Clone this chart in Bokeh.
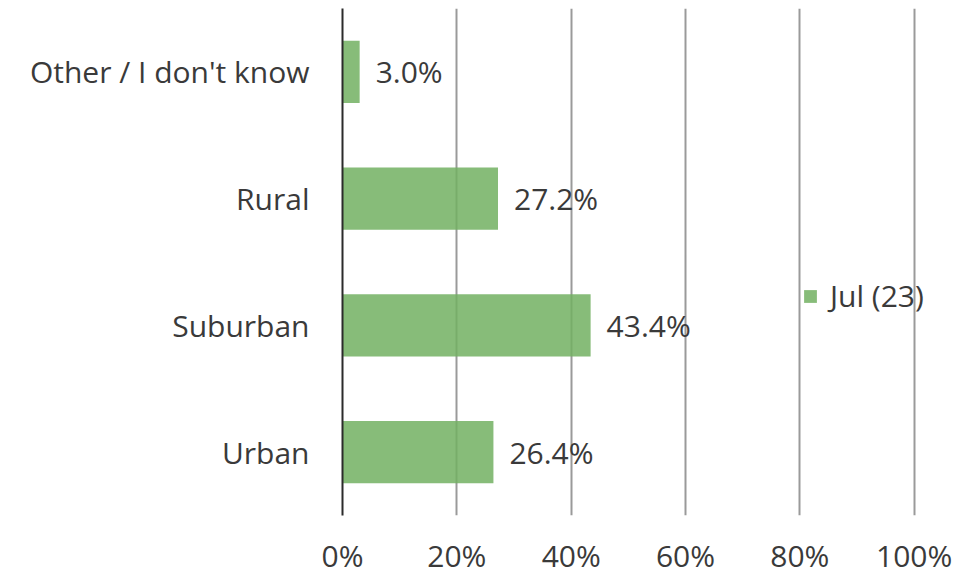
from bokeh.plotting import figure
from bokeh.models import ColumnDataSource, FactorRange, Legend, LegendItem, NumeralTickFormatter, FixedTicker
from bokeh.core.properties import value
from bokeh.embed import file_html
from bokeh.resources import INLINE

categories = ["Urban", "Suburban", "Rural", "Other / I don't know"]
values = [26.4, 43.4, 27.2, 3.0]
labels = ["26.4%", "43.4%", "27.2%", "3.0%"]
series_name = "Jul (23)"
tick_values = [0, 20, 40, 60, 80, 100]

FONT = "Open Sans"
FS = "30px"
TXT = "#3a3a3a"

src = ColumnDataSource(dict(cat=categories, val=values, lab=labels))

p = figure(width=955, height=578, y_range=FactorRange(*categories), x_range=(0, 106),
           output_backend="svg", toolbar_location=None,
           min_border_left=342, min_border_right=7, min_border_top=8, min_border_bottom=60)
p.outline_line_color = None
p.background_fill_color = "white"

bars = p.hbar(y="cat", right="val", left=0, height=0.49, source=src,
              fill_color="#72b062", fill_alpha=0.85, line_color=None)

p.text(x="val", y="cat", text="lab", source=src, x_offset=16,
       text_baseline="middle", text_align="left",
       text_font=value(FONT), text_font_size=FS, text_color=TXT)

p.ygrid.grid_line_color = None
p.xgrid.grid_line_color = "#9a9a9a"
p.xgrid.grid_line_width = 2
p.xgrid.ticker = FixedTicker(ticks=tick_values)

p.xaxis.ticker = FixedTicker(ticks=tick_values)
p.xaxis.formatter = NumeralTickFormatter(format="0")
p.xaxis.major_label_overrides = {t: f"{t}%" for t in tick_values}
p.xaxis.axis_line_color = None
p.xaxis.major_tick_line_color = None
p.xaxis.minor_tick_line_color = None
p.xaxis.major_label_standoff = 13
p.xaxis.major_label_text_font = FONT
p.xaxis.major_label_text_font_size = FS
p.xaxis.major_label_text_color = TXT

p.yaxis.axis_line_color = "#2b2b2b"
p.yaxis.axis_line_width = 2
p.yaxis.major_tick_line_color = None
p.yaxis.minor_tick_line_color = None
p.yaxis.major_label_standoff = 27
p.yaxis.major_label_text_font = FONT
p.yaxis.major_label_text_font_size = FS
p.yaxis.major_label_text_color = TXT

legend = Legend(items=[LegendItem(label=series_name, renderers=[bars])],
                location=(460, 199), orientation="vertical")
legend.background_fill_alpha = 0
legend.border_line_color = None
legend.padding = 0
legend.margin = 0
legend.glyph_width = 16
legend.glyph_height = 16
legend.label_standoff = 12
legend.label_text_font = FONT
legend.label_text_font_size = FS
legend.label_text_color = TXT
p.add_layout(legend, "center")

open("out.html", "w").write(file_html(p, INLINE))
